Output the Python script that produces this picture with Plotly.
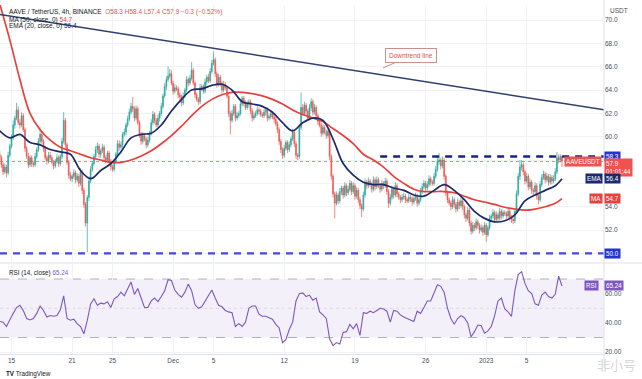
import pandas as pd
import plotly.graph_objects as go

# ------------------------------------------------------------------ data
start_time = "2022-11-13 20:00"          # first 4h candle
first_open = 58.5
closes = [
    58.2, 57.6, 57.0, 57.4, 56.9, 58.4,
    59.2, 59.9, 61.0, 61.6, 62.3, 61.2,
    61.0, 61.8, 60.6, 59.0, 58.3, 57.6,
    58.2, 57.7, 57.6, 58.3, 58.9, 59.6,
    60.2, 59.6, 59.0, 58.2, 57.9, 58.4,
    58.2, 57.8, 57.5, 57.9, 58.2, 57.7,
    58.3, 59.6, 61.4, 59.3, 57.8, 56.7,
    56.4, 56.6, 56.9, 56.3, 56.6, 56.0,
    57.0, 55.4, 54.2, 52.6, 54.8, 56.2,
    57.2, 57.7, 58.3, 58.9, 59.2, 58.5,
    58.8, 59.1, 58.2, 58.0, 58.6, 57.9,
    57.4, 57.2, 57.9, 58.5, 59.4, 59.1,
    59.3, 60.2, 60.4, 61.0, 61.5, 62.1,
    62.6, 62.4, 61.6, 62.4, 61.2, 60.2,
    59.6, 60.1, 59.8, 59.3, 59.7, 60.3,
    61.2, 61.9, 61.4, 61.0, 61.6, 62.0,
    62.6, 63.5, 64.3, 64.9, 65.2, 65.4,
    64.6, 63.9, 64.2, 64.1, 63.6, 63.4,
    62.9, 63.5, 64.0, 64.9, 64.6, 65.0,
    65.7, 64.6, 63.6, 63.2, 63.0, 64.2,
    64.3, 63.9, 64.7, 65.1, 64.8, 65.6,
    66.3, 66.6, 65.4, 64.5, 65.1, 64.6,
    64.0, 64.5, 64.2, 63.5, 62.0, 61.4,
    62.0, 62.6, 61.6, 61.8, 62.0, 62.8,
    63.3, 62.9, 62.5, 62.8, 63.0, 62.2,
    61.6, 61.8, 62.0, 62.3, 62.2, 61.9,
    61.8, 62.1, 62.3, 61.6, 61.7, 62.0,
    61.7, 61.5, 61.1, 60.6, 59.6, 58.9,
    58.4, 59.0, 59.5, 58.9, 59.3, 59.8,
    60.4, 59.4, 58.4, 58.3, 60.8, 62.5,
    62.0, 62.7, 62.2, 61.6, 62.5, 63.0,
    62.1, 62.5, 61.8, 61.3, 61.0, 60.3,
    60.8, 60.4, 60.1, 60.5, 58.3, 56.6,
    55.1, 54.3, 55.0, 54.5, 55.3, 55.6,
    55.0, 55.8, 55.2, 55.5, 56.0, 55.3,
    55.8, 54.9, 55.4, 54.6, 54.1, 53.8,
    55.0, 56.1, 55.8, 56.2, 55.9, 55.5,
    56.3, 55.7, 56.3, 55.8, 55.5, 56.0,
    55.8, 56.2, 55.3, 54.3, 54.8, 55.5,
    55.0, 55.8, 55.1, 54.8, 54.6, 54.8,
    54.9, 54.6, 54.5, 54.8, 54.7, 54.4,
    54.7, 54.9, 54.3, 54.6, 55.3, 55.7,
    56.0, 55.6, 55.9, 56.4, 56.1, 56.0,
    56.6, 57.2, 57.9, 58.0, 57.5, 58.0,
    56.6, 55.2, 54.6, 54.3, 54.0, 54.6,
    54.2, 53.8, 54.4, 54.1, 54.5, 54.0,
    53.3, 53.0, 53.7, 52.6, 51.9, 52.4,
    52.2, 52.7, 52.4, 52.0, 52.2, 51.8,
    52.4, 51.6, 52.2, 53.0, 53.2, 53.5,
    52.9, 53.3, 53.0, 53.6, 53.2, 53.5,
    53.4, 53.2, 53.6, 53.1, 52.9, 52.8,
    53.6, 55.1, 56.6, 57.4, 57.6, 57.0,
    56.2, 56.6, 55.7, 56.1, 55.4, 55.3,
    55.8, 54.9, 54.6, 55.9, 56.5, 56.8,
    56.3, 56.6, 56.1, 56.5, 56.2, 56.4,
    57.0, 58.2, 58.0, 58.3, 57.9,
]
# upper / lower wick beyond the candle body, in tenths of a USDT
hi_ext = [
    3, 2, 2, 3, 2, 3,  2, 3, 4, 2, 6, 3,  3, 3, 2, 2, 2, 3,  2, 2, 2, 3, 2, 3,
    6, 3, 2, 2, 2, 3,  3, 2, 2, 2, 3, 2,  2, 3, 7, 2, 2, 2,  3, 2, 3, 2, 3, 2,
    3, 2, 2, 2, 2, 4,  3, 2, 2, 3, 3, 2,  2, 3, 2, 2, 2, 2,  2, 2, 2, 2, 3, 3,
    3, 2, 3, 2, 3, 3,  3, 8, 2, 3, 2, 2,  2, 3, 2, 2, 3, 2,  3, 3, 2, 2, 3, 2,
    3, 2, 3, 3, 8, 4,  3, 2, 3, 2, 2, 2,  2, 3, 2, 3, 2, 3,  7, 2, 2, 2, 2, 3,
    2, 2, 3, 2, 3, 3,  3, 7, 2, 2, 3, 2,  2, 3, 2, 2, 2, 2,  3, 2, 2, 3, 2, 3,
    2, 2, 2, 3, 2, 2,  2, 3, 2, 3, 2, 2,  2, 3, 2, 2, 2, 3,  2, 2, 2, 2, 2, 2,
    2, 3, 2, 2, 3, 2,  3, 2, 2, 2, 3, 13, 3, 3, 2, 2, 3, 3,  2, 3, 2, 2, 2, 2,
    3, 2, 2, 3, 2, 2,  2, 2, 3, 2, 3, 2,  2, 3, 2, 3, 3, 2,  3, 2, 3, 2, 2, 2,
    3, 3, 2, 3, 2, 2,  3, 2, 3, 2, 2, 3,  2, 3, 2, 2, 3, 3,  2, 3, 2, 2, 2, 3,
    3, 2, 2, 3, 2, 2,  2, 3, 2, 2, 3, 3,  3, 2, 3, 3, 2, 2,  3, 3, 4, 6, 2, 3,
    2, 2, 2, 2, 2, 3,  2, 2, 3, 2, 3, 2,  2, 2, 3, 2, 2, 3,  2, 3, 2, 2, 3, 2,
    3, 2, 2, 3, 2, 3,  2, 3, 2, 3, 2, 2,  2, 2, 3, 2, 2, 2,  3, 3, 3, 6, 4, 2,
    2, 3, 2, 3, 2, 2,  3, 2, 2, 3, 3, 3,  2, 3, 2, 3, 2, 3,  3, 5, 3, 2, 1,
]
lo_ext = [
    2, 3, 3, 2, 4, 2,  2, 2, 2, 3, 2, 2,  3, 2, 2, 3, 2, 3,  2, 3, 2, 2, 2, 2,
    2, 2, 3, 2, 3, 2,  2, 2, 3, 2, 2, 3,  2, 2, 2, 3, 2, 3,  2, 3, 2, 3, 2, 3,
    2, 3, 3, 3, 25, 3, 2, 2, 2, 2, 3, 3,  3, 2, 2, 3, 2, 3,  3, 2, 2, 2, 2, 3,
    2, 3, 2, 3, 2, 2,  2, 3, 3, 2, 2, 3,  3, 2, 2, 3, 2, 2,  2, 2, 3, 2, 2, 3,
    2, 2, 2, 3, 2, 2,  2, 3, 2, 2, 3, 3,  3, 2, 2, 2, 3, 2,  2, 2, 3, 2, 3, 2,
    3, 2, 2, 3, 2, 2,  2, 2, 3, 3, 2, 3,  3, 2, 2, 2, 3, 12, 2, 2, 3, 2, 2, 2,
    2, 3, 2, 2, 3, 3,  3, 2, 2, 2, 3, 2,  2, 2, 3, 3, 2, 2,  2, 3, 2, 3, 3, 3,
    3, 2, 2, 3, 2, 2,  2, 3, 3, 3, 2, 2,  2, 2, 3, 2, 2, 3,  3, 2, 2, 3, 2, 3,
    2, 2, 3, 2, 3, 3,  3, 13, 2, 3, 2, 3, 3, 2, 3, 2, 2, 3,  2, 3, 2, 3, 3, 7,
    2, 2, 3, 2, 2, 3,  2, 3, 2, 2, 3, 2,  3, 2, 3, 4, 2, 2,  3, 2, 3, 2, 3, 2,
    2, 3, 2, 2, 3, 3,  2, 2, 3, 2, 2, 2,  2, 3, 2, 2, 3, 2,  2, 2, 2, 3, 3, 2,
    3, 3, 3, 2, 3, 2,  3, 3, 2, 3, 2, 3,  3, 3, 2, 3, 3, 2,  3, 2, 3, 3, 2, 3,
    2, 6, 2, 2, 3, 2,  3, 2, 3, 2, 3, 2,  2, 3, 2, 3, 3, 3,  2, 2, 2, 3, 3, 3,
    3, 2, 3, 2, 3, 3,  2, 3, 4, 2, 2, 2,  3, 2, 3, 2, 3, 2,  2, 2, 3, 2, 5,
]
# MA(50) and EMA(20) read once per day (+ last candle)
ma50_vals = [
    71.4, 68.3, 64.9, 62.0, 60.6, 59.7, 59.1, 58.8, 58.5, 58.2,
    58.0, 57.8, 57.8, 58.0, 58.35, 58.8, 59.4, 60.1, 60.9, 61.8,
    62.6, 63.2, 63.6, 63.8, 63.8, 63.7, 63.5, 63.2, 62.8, 62.3,
    61.9, 61.6, 61.3, 60.7, 60.1, 59.4, 58.5, 58.0, 57.4, 56.6,
    56.0, 55.5, 55.3, 55.3, 55.3, 55.2, 54.9, 54.6, 54.4, 54.2,
    53.95, 53.8, 53.7, 53.8, 54.0, 54.3, 54.7,
]
ema20_vals = [
    60.5, 59.9, 60.2, 59.5, 59.3, 58.9, 58.7, 58.5, 57.1, 56.4,
    57.1, 57.7, 58.7, 59.9, 60.2, 60.3, 61.0, 62.2, 63.2, 64.0,
    64.1, 64.4, 64.5, 64.0, 63.0, 62.8, 62.6, 62.1, 61.2, 60.5,
    61.2, 61.6, 61.4, 59.8, 57.7, 56.7, 56.1, 55.9, 55.9, 55.6,
    55.4, 55.0, 54.9, 55.4, 55.9, 55.4, 54.6, 53.6, 53.0, 52.7,
    52.8, 53.3, 54.5, 55.0, 55.4, 55.8, 56.4,
]
# RSI(14) read every second candle
rsi_vals = [
    41.0, 40.5, 37.5, 42.5, 46.5, 50.5, 52.0, 48.5, 43.0, 42.0,
    43.0, 46.5, 51.5, 48.5, 44.0, 45.0, 44.5, 45.0, 49.0, 58.5,
    43.0, 41.8, 42.5, 39.5, 37.5, 32.5, 41.5, 53.0, 56.5, 52.0,
    53.5, 53.0, 54.5, 50.5, 56.5, 58.0, 61.0, 58.5, 63.0, 68.0,
    59.5, 63.5, 57.0, 50.5, 50.5, 55.0, 57.0, 54.5, 58.0, 62.0,
    69.5, 69.0, 62.5, 59.5, 57.5, 61.0, 66.5, 62.0, 52.5, 50.0,
    51.0, 55.0, 58.0, 62.5, 57.0, 52.0, 51.0, 48.5, 47.5, 47.0,
    37.5, 39.5, 37.5, 40.5, 50.0, 51.5, 51.5, 46.0, 44.5, 44.5,
    43.5, 42.5, 39.0, 36.5, 26.5, 28.5, 35.5, 40.5, 55.0, 60.0,
    60.5, 58.0, 59.0, 55.5, 57.0, 47.5, 45.5, 43.0, 29.0, 24.5,
    26.5, 25.5, 33.5, 34.0, 39.0, 36.0, 39.5, 31.5, 47.0, 46.5,
    48.0, 47.0, 48.5, 50.0, 49.5, 48.0, 40.5, 48.5, 48.0, 45.5,
    44.0, 43.0, 42.0, 41.0, 48.0, 46.5, 50.5, 55.0, 55.0, 60.0,
    66.0, 65.0, 61.0, 50.0, 43.0, 39.0, 43.0, 45.0, 43.5, 40.0,
    30.5, 34.0, 38.5, 38.0, 33.0, 34.5, 37.5, 45.0, 55.0, 57.0,
    49.5, 47.5, 44.5, 62.0, 73.0, 75.0, 67.0, 62.0, 60.0, 53.0,
    52.0, 59.0, 61.0, 58.0, 57.0, 59.5, 72.0, 65.24,
]
tick_dates = ["2022-11-15", "2022-11-21", "2022-11-25", "2022-12-01", "2022-12-05",
              "2022-12-12", "2022-12-19", "2022-12-26", "2023-01-01", "2023-01-05"]
tick_text = ["15", "21", "25", "Dec", "5", "12", "19", "26", "2023", "5"]
price_ticks = [50, 52, 54, 56, 58, 60, 62, 64, 66, 68, 70]
# labels hidden behind the price boxes on the scale are left blank
price_tick_text = ["", "52.0", "54.0", "", "", "60.0", "62.0", "64.0", "66.0", "68.0", "70.0"]
rsi_ticks = [20, 40, 60]
resistance = 58.3
resistance_start = "2022-12-21 12:00"
support = 50.0
trend_dates = ["2022-11-13 20:40", "2023-01-12 15:50"]
trend_vals = [70.47, 62.30]
x_range = ["2022-11-13 20:40", "2023-01-12 15:50"]
price_range = [49.26, 71.29]
rsi_range = [18.72, 80.26]
header_title = "AAVE / TetherUS, 4h, BINANCE"
header_ohlc = "O58.3 H58.4 L57.4 C57.9 \u22120.3 (\u22120.52%)"
countdown = "01:01:44"

# ------------------------------------------------------------------ derived
times = pd.date_range(start_time, periods=len(closes), freq="4h")
opens = [first_open] + closes[:-1]
highs = [round(max(o, c) + h / 10, 2) for o, c, h in zip(opens, closes, hi_ext)]
lows = [round(min(o, c) - l / 10, 2) for o, c, l in zip(opens, closes, lo_ext)]
ma_times = list(times[::6]) + [times[-1]]
rsi_times = list(times[::2])

# ------------------------------------------------------------------ styling
W, H = 642, 379
PL, PR, PT, PB = 0, 604, 5, 354
FONT = "Liberation Sans, Arial, sans-serif"
GRID = "#f0f2f6"
AXC = "#4a4e5a"
GREEN, RED = "#26a69a", "#ef5350"
MA_C, EMA_C, RSI_C = "#e8403c", "#1c2a6b", "#7e57c2"
BLUE_LBL = "#2634cf"


def px(x):
    return (x - PL) / (PR - PL)


def py(y):
    return (PB - y) / (PB - PT)


fig = go.Figure()
fig.add_trace(go.Candlestick(
    x=times, open=opens, high=highs, low=lows, close=closes,
    increasing=dict(line=dict(color=GREEN, width=0.7), fillcolor=GREEN),
    decreasing=dict(line=dict(color=RED, width=0.7), fillcolor=RED),
    whiskerwidth=0, hoverinfo="skip", xaxis="x", yaxis="y", showlegend=False))
fig.add_trace(go.Scatter(x=ma_times, y=ma50_vals, mode="lines",
                         line=dict(color=MA_C, width=1.7, shape="spline"),
                         hoverinfo="skip", xaxis="x", yaxis="y"))
fig.add_trace(go.Scatter(x=ma_times, y=ema20_vals, mode="lines",
                         line=dict(color=EMA_C, width=1.7, shape="spline"),
                         hoverinfo="skip", xaxis="x", yaxis="y"))
fig.add_trace(go.Scatter(x=trend_dates, y=trend_vals, mode="lines",
                         line=dict(color="#2f3f6f", width=1.5),
                         hoverinfo="skip", xaxis="x", yaxis="y"))
fig.add_trace(go.Scatter(x=[resistance_start, x_range[1]], y=[resistance, resistance],
                         mode="lines", line=dict(color="#1a237e", width=2.4, dash="7px,6px"),
                         hoverinfo="skip", xaxis="x", yaxis="y"))
fig.add_trace(go.Scatter(x=x_range, y=[support, support], mode="lines",
                         line=dict(color="#4646e8", width=2.2, dash="7px,6px"),
                         hoverinfo="skip", xaxis="x", yaxis="y"))
fig.add_trace(go.Scatter(x=rsi_times, y=rsi_vals, mode="lines",
                         line=dict(color=RSI_C, width=1.1),
                         hoverinfo="skip", xaxis="x2", yaxis="y2"))

shapes = [
    dict(type="rect", xref="paper", yref="y2", x0=0, x1=1, y0=30, y1=70,
         fillcolor="rgba(126,87,194,0.09)", line=dict(width=0), layer="below"),
    dict(type="line", xref="paper", yref="y2", x0=0, x1=1, y0=70, y1=70,
         line=dict(color="rgba(120,123,134,0.7)", width=0.8, dash="dash"), layer="below"),
    dict(type="line", xref="paper", yref="y2", x0=0, x1=1, y0=30, y1=30,
         line=dict(color="rgba(120,123,134,0.7)", width=0.8, dash="dash"), layer="below"),
    dict(type="line", xref="paper", yref="y2", x0=0, x1=1, y0=50, y1=50,
         line=dict(color="rgba(120,123,134,0.25)", width=0.8, dash="dot"), layer="below"),
    dict(type="line", xref="paper", yref="y", x0=0, x1=1, y0=closes[-1], y1=closes[-1],
         line=dict(color=RED, width=1, dash="dot"), layer="below"),
    dict(type="line", xref="paper", yref="paper", x0=0, x1=1.07, y0=py(263), y1=py(263),
         line=dict(color="#dfe2ea", width=1)),
    dict(type="line", xref="paper", yref="paper", x0=1, x1=1, y0=py(368), y1=py(0),
         line=dict(color="#dfe2ea", width=1)),
]

small = dict(family=FONT, size=6.5, color=AXC)
white = dict(family=FONT, size=6.3, color="white")


def box(text, y, yref, bg, x=1.0, xanchor="left", **kw):
    d = dict(text=text, x=x, y=y, xref="paper", yref=yref, xanchor=xanchor,
             yanchor="middle", showarrow=False, bgcolor=bg, font=white, borderpad=1)
    d.update(kw)
    return d


annotations = [
    dict(text=f'{header_title}  <span style="color:{RED}">{header_ohlc}</span>',
         x=px(7), y=py(12.5), xref="paper", yref="paper", xanchor="left", yanchor="middle",
         showarrow=False, font=dict(family=FONT, size=6.5, color="#131722")),
    dict(text=f'MA (50, close, 0) <span style="color:{MA_C}">{ma50_vals[-1]:.1f}</span>',
         x=px(7), y=py(19.5), xref="paper", yref="paper", xanchor="left", yanchor="middle",
         showarrow=False, font=dict(family=FONT, size=6.5, color="#131722")),
    dict(text=f'EMA (20, close, 0) <span style="color:{EMA_C}">{ema20_vals[-1]:.1f}</span>',
         x=px(7), y=py(26.5), xref="paper", yref="paper", xanchor="left", yanchor="middle",
         showarrow=False, font=dict(family=FONT, size=6.5, color="#131722")),
    dict(text=f'RSI (14, close) <span style="color:{RSI_C}">{rsi_vals[-1]:.2f}</span>',
         x=px(7), y=py(273), xref="paper", yref="paper", xanchor="left", yanchor="middle",
         showarrow=False, font=dict(family=FONT, size=6.3, color="#131722")),
    dict(text="USDT", x=px(608), y=py(10.5), xref="paper", yref="paper", xanchor="left",
         yanchor="middle", showarrow=False, font=small),
    dict(text="Downtrend line", x=px(383), y=py(68), xref="paper", yref="paper",
         ax=28, ay=-12.5, showarrow=True, arrowhead=0, arrowwidth=1, arrowcolor="#c98f8f",
         standoff=0, bgcolor="white", bordercolor="#c98f8f", borderwidth=1, borderpad=3,
         font=dict(family=FONT, size=6.5, color="#d9534f")),
    box(f"{resistance:.1f}", resistance, "y", BLUE_LBL),
    box(f"{support:.1f}", support, "y", BLUE_LBL),
    box(f"{closes[-1]:.1f}<br>{countdown}", closes[-1], "y", RED, yanchor="top", yshift=3,
        align="left"),
    box("AAVEUSDT", closes[-1], "y", RED, x=px(602), xanchor="right"),
    box("EMA", ema20_vals[-1], "y", EMA_C, x=px(603), xanchor="right"),
    box(f"{ema20_vals[-1]:.1f}", ema20_vals[-1], "y", EMA_C),
    box("MA", ma50_vals[-1], "y", MA_C, x=px(603), xanchor="right"),
    box(f"{ma50_vals[-1]:.1f}", ma50_vals[-1], "y", MA_C),
    box("RSI", rsi_vals[-1], "y2", RSI_C, x=px(599), xanchor="right"),
    box(f"{rsi_vals[-1]:.2f}", rsi_vals[-1], "y2", RSI_C),
    dict(text="<b>TV</b> TradingView", x=px(4), y=py(373.5), xref="paper", yref="paper",
         xanchor="left", yanchor="middle", showarrow=False,
         font=dict(family=FONT, size=6.3, color="#131722")),
    dict(text="非小号", x=px(616), y=py(364), xref="paper", yref="paper",
         xanchor="center", yanchor="middle", showarrow=False,
         font=dict(family="Noto Sans CJK SC", size=13, color="rgba(150,150,150,0.40)")),
]

fig.update_layout(
    width=W, height=H,
    margin=dict(l=PL, r=W - PR, t=PT, b=H - PB),
    paper_bgcolor="white", plot_bgcolor="white",
    showlegend=False, hovermode=False,
    font=dict(family=FONT, size=6.5, color=AXC),
    xaxis=dict(domain=[0, 1], range=x_range, type="date", anchor="y",
               tickvals=tick_dates, ticktext=tick_text, showticklabels=False,
               showgrid=True, gridcolor=GRID, zeroline=False, showline=False,
               rangeslider=dict(visible=False), fixedrange=True),
    xaxis2=dict(domain=[0, 1], range=x_range, type="date", anchor="y2", matches="x",
                tickvals=tick_dates, ticktext=tick_text, showticklabels=True,
                tickfont=small, ticks="", showgrid=True, gridcolor=GRID, zeroline=False,
                showline=True, linecolor="#dfe2ea", fixedrange=True),
    yaxis=dict(domain=[py(262), 1], range=price_range, side="right", anchor="x",
               tickvals=price_ticks, ticktext=price_tick_text, tickfont=small, ticks="",
               showgrid=True, gridcolor=GRID, zeroline=False, showline=False, fixedrange=True),
    yaxis2=dict(domain=[0, py(264)], range=rsi_range, side="right", anchor="x2",
                tickvals=rsi_ticks, tickformat=".2f", tickfont=small, ticks="",
                showgrid=True, gridcolor=GRID, zeroline=False, showline=False, fixedrange=True),
    shapes=shapes, annotations=annotations,
)

fig.write_html("out.html", config={"displayModeBar": False},
               post_script="document.body.style.margin='0';document.body.style.overflow='hidden';")
